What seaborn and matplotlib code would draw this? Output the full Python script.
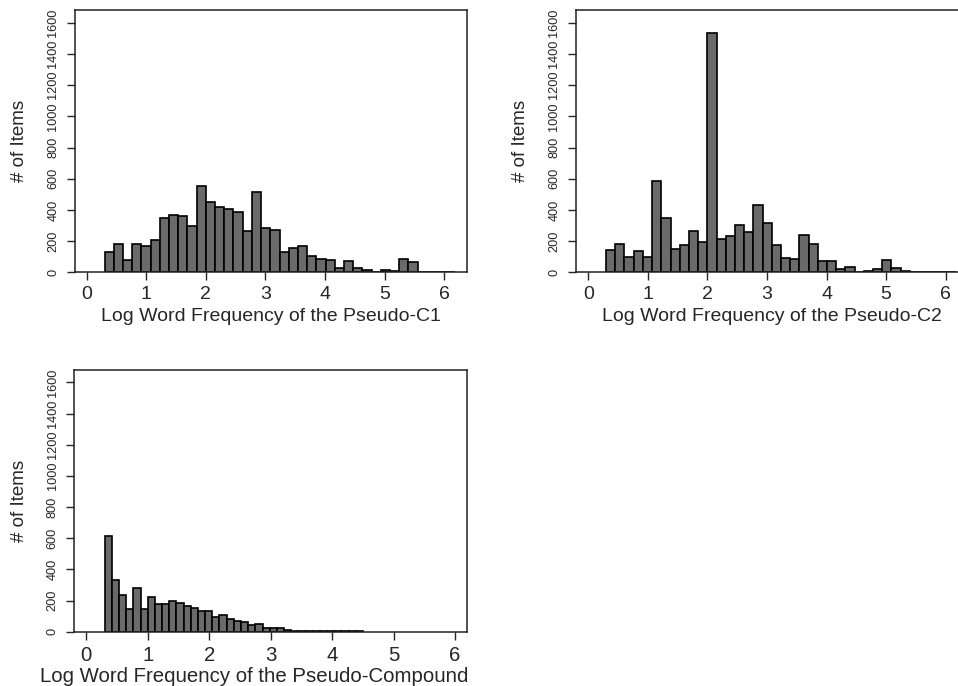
import numpy as np
import pandas as pd
import seaborn as sns
import matplotlib.pyplot as plt

# histogram counts (bins start at 0.3)
c1_counts = [132, 179, 81, 179, 171, 205, 346, 365, 361, 297, 553, 449, 417, 406, 389, 263,
             515, 284, 271, 128, 158, 167, 103, 85, 77, 26, 73, 28, 15, 4, 13, 9, 88, 64,
             2, 2, 0, 2]
c2_counts = [143, 184, 98, 135, 98, 585, 348, 147, 175, 265, 194, 1532, 214, 233, 306, 261,
             429, 318, 173, 92, 83, 239, 179, 70, 70, 19, 36, 3, 8, 19, 77, 26, 11, 4, 2,
             4, 2, 4]
comp_counts = [614, 330, 234, 145, 281, 145, 225, 176, 176, 198, 186, 166, 155, 130, 130, 97,
               105, 84, 69, 60, 43, 51, 25, 22, 22, 10, 4, 4, 4, 3, 3, 3, 2, 2, 2, 3]

x_labels = ["Log Word Frequency of the Pseudo-C1",
            "Log Word Frequency of the Pseudo-C2",
            "Log Word Frequency of the Pseudo-Compound"]
x_ticks = [0, 1, 2, 3, 4, 5, 6]
y_ticks = [0, 200, 400, 600, 800, 1000, 1200, 1400, 1600]

sns.set_style("ticks")
plt.rcParams["font.family"] = ["Liberation Sans", "DejaVu Sans"]
# narrow face for the crowded y tick labels, plain face if it is missing
NARROW = ["Liberation Sans Narrow", "Liberation Sans"]

BIN_START = 0.3
fig = plt.figure(figsize=(9.58, 6.86), dpi=100)


def px_axes(left, top, right, bottom):
    return fig.add_axes([left / 958, 1 - bottom / 686, (right - left) / 958, (bottom - top) / 686])


def draw_hist(ax, counts, width, xlim, xlabel, fs=14, label_x=0.5):
    edges = BIN_START + width * np.arange(len(counts) + 1)
    df = pd.DataFrame({"freq": (edges[:-1] + edges[1:]) / 2, "n": counts})
    sns.histplot(data=df, x="freq", weights="n", bins=list(edges), stat="count", ax=ax,
                 color="#6a6a6a", edgecolor="black", linewidth=1.2, alpha=1)
    ax.set_xlim(*xlim)
    ax.set_ylim(0, 1680)
    ax.set_xticks(x_ticks)
    ax.set_yticks(y_ticks)
    ax.set_yticklabels([str(v) for v in y_ticks], rotation=90, va="center",
                       fontsize=9.2, family=NARROW)
    ax.tick_params(axis="x", labelsize=fs, length=6, width=1, pad=4)
    ax.tick_params(axis="y", length=6, width=1, pad=5)
    ax.set_xlabel(xlabel, fontsize=fs)
    ax.xaxis.set_label_coords(label_x, -0.135)
    ax.set_ylabel("# of Items", fontsize=13.5)
    ax.yaxis.set_label_coords(-0.118, 0.5)
    for s in ax.spines.values():
        s.set_linewidth(1.1)
        s.set_color("#222222")
        s.set_visible(True)


ax1 = px_axes(74.7, 10.3, 466.7, 272.3)
draw_hist(ax1, c1_counts, 0.1545, (-0.2, 6.375), x_labels[0])

ax2 = px_axes(575.7, 10.3, 967.7, 272.3)
draw_hist(ax2, c2_counts, 0.1545, (-0.21, 6.37), x_labels[1])

ax3 = px_axes(74.0, 370.0, 466.7, 631.7)
draw_hist(ax3, comp_counts, 0.1167, (-0.2, 6.19), x_labels[2], fs=14.7, label_x=0.46)

fig.savefig("out.png", dpi=100)
